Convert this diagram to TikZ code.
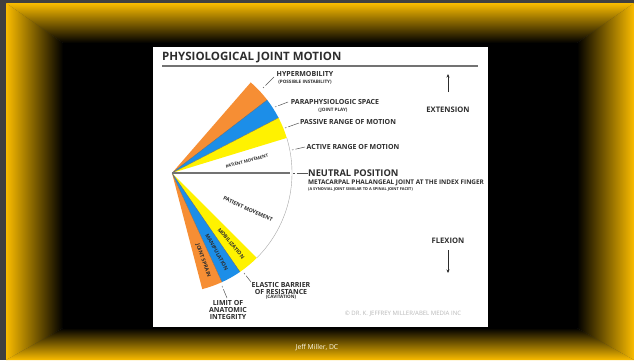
\documentclass[tikz,border=0pt]{standalone}
\usepackage{fontspec}
\setmainfont{Open Sans}
\usetikzlibrary{arrows.meta,calc}
\newcommand\setfs[1]{\fontsize{#1}{#1}\selectfont}
\begin{document}
\begin{tikzpicture}[x=1pt,y=1pt,
  lbl/.style={inner sep=0pt, text=ink, font=\bfseries\setfs{7}},
  sub/.style={inner sep=0pt, text=ink, font=\bfseries\setfs{4.6}},
  wedgetxt/.style={inner sep=0pt, text=ink, font=\bfseries\setfs{5.2}},
  leader/.style={draw=ink!80, line width=0.5pt, dash pattern=on 1.5pt off 2pt on 12pt off 0pt},
  arr/.style={draw=ink, line width=0.8pt, -{Stealth[length=3.5pt,width=3pt]}}]
\definecolor{gold}{RGB}{250,188,0}
\definecolor{orng}{RGB}{246,142,52}
\definecolor{blu}{RGB}{28,142,232}
\definecolor{yel}{RGB}{255,242,0}
\definecolor{ink}{RGB}{45,45,45}
\useasboundingbox (0,0) rectangle (634,360);
% frame
\fill[black!75] (0,0) rectangle (634,360);
\fill[black] (63,32) rectangle (577,317);
\shade[top color=gold, bottom color=black] (6,357) -- (634,357) -- (577,317) -- (63,317) -- cycle;
\shade[left color=gold, right color=black] (6,0) -- (63,32) -- (63,317) -- (6,357) -- cycle;
\shade[left color=black, right color=gold] (634,0) -- (634,357) -- (577,317) -- (577,32) -- cycle;
\shade[top color=black, bottom color=gold] (6,0) -- (634,0) -- (577,32) -- (63,32) -- cycle;
% panel
\fill[white] (153,33) rectangle (488,313);
% title
\node[inner sep=0pt, anchor=west, text=ink, font=\bfseries\setfs{11.5}] (title) at (162,302) {PHYSIOLOGICAL JOINT MOTION};
\draw[black!55, line width=1.5pt] (162,294) -- (478,294);
% fan
\coordinate (P) at (172,187);
\fill[orng] (P) -- ++(37.5:120) arc (37.5:49:120) -- cycle;
\fill[blu]  (P) -- ++(27.4:120) arc (27.4:37.5:120) -- cycle;
\fill[yel]  (P) -- ++(17:120) arc (17:27.4:120) -- cycle;
\fill[yel]  (P) -- ++(-45:120) arc (-45:-55.5:120) -- cycle;
\fill[blu]  (P) -- ++(-55.5:120) arc (-55.5:-65.4:120) -- cycle;
\fill[orng] (P) -- ++(-65.4:120) arc (-65.4:-75.4:120) -- cycle;
\draw[black!60, line width=0.3pt] (P) -- ++(27.4:120) (P) -- ++(-55.5:120) (P) -- ++(37.5:120) (P) -- ++(-65.4:120);
\draw[black!35, line width=0.4pt] (P) ++(17:120) arc (17:-45:120);
\draw[black!55, line width=1.3pt] (P) -- ++(0:118);
% texts in fan
\node[inner sep=0pt, text=ink, font=\bfseries\setfs{4.3}, rotate=15] (pm1) at (247,199) {PATIENT MOVEMENT};
\node[inner sep=0pt, text=ink, font=\bfseries\setfs{5.3}, rotate=-25] (pm2) at (248,151) {PATIENT MOVEMENT};
\node[wedgetxt, rotate=-50] (mob) at ($(P)+(-50:92)$) {MOBILIZATION};
\node[wedgetxt, rotate=-60.5] (man) at ($(P)+(-60.5:91)$) {MANIPULATION};
\node[wedgetxt, rotate=-70.4] (spr) at ($(P)+(-70.4:93)$) {JOINT SPRAIN};
% labels
\node[lbl] (hyper) at (305,286) {HYPERMOBILITY};
\node[sub] (hypersub) at (305,278) {(POSSIBLE INSTABILITY)};
\coordinate (h1) at (263,272); \coordinate (h2) at (274,283);
\draw[leader] (h1) -- (h2);
\node[lbl] (para) at (335,258) {PARAPHYSIOLOGIC SPACE};
\node[sub] (parasub) at (333,250) {(JOINT PLAY)};
\coordinate (p1) at (275,253); \coordinate (p2) at (288,258);
\draw[leader] (p1) -- (p2);
\node[lbl] (pass) at (348,238) {PASSIVE RANGE OF MOTION};
\coordinate (s1) at (285,232); \coordinate (s2) at (299,237);
\draw[leader] (s1) -- (s2);
\node[lbl] (act) at (353,213) {ACTIVE RANGE OF MOTION};
\coordinate (a1) at (292,210); \coordinate (a2) at (305,213);
\draw[leader] (a1) -- (a2);
\node[inner sep=0pt, anchor=west, text=ink, font=\bfseries\setfs{9.3}] (neut) at (308,187) {NEUTRAL POSITION};
\coordinate (n1) at (293,187);
\draw[leader] (n1) -- (neut.west);
\node[inner sep=0pt, anchor=west, text=ink, font=\bfseries\setfs{6.4}] (meta) at (308,177) {METACARPAL PHALANGEAL JOINT AT THE INDEX FINGER};
\node[inner sep=0pt, anchor=west, text=ink, font=\bfseries\setfs{3.9}] (syn) at (308,171) {(A SYNOVIAL JOINT SIMILAR TO A SPINAL JOINT FACET)};
\node[lbl, font=\bfseries\setfs{7.6}] (ext) at (448,250) {EXTENSION};
\coordinate (e1) at (448,268); \coordinate (e2) at (448,286);
\draw[arr] (e1) -- (e2);
\node[lbl, font=\bfseries\setfs{7.6}] (flex) at (448,119) {FLEXION};
\coordinate (f1) at (448,110); \coordinate (f2) at (448,87);
\draw[arr] (f1) -- (f2);
\node[lbl] (el1) at (281,75) {ELASTIC BARRIER};
\node[lbl] (el2) at (281,68.5) {OF RESISTANCE};
\node[sub] (el3) at (281,62.5) {(CAVITATION)};
\coordinate (b1) at (244,87); \coordinate (b2) at (251,78);
\draw[leader] (b1) -- (b2);
\node[lbl] (li1) at (228,57) {LIMIT OF};
\node[lbl] (li2) at (228,50) {ANATOMIC};
\node[lbl] (li3) at (228,43) {INTEGRITY};
\coordinate (l1) at (222,74); \coordinate (l2) at (227,62);
\draw[leader] (l1) -- (l2);
\node[inner sep=0pt, text=black!28, font=\setfs{6}] (copy) at (403,46) {\textcopyright{} DR. K. JEFFREY MILLER/ABEL MEDIA INC};
% footer
\node[inner sep=0pt, text=white!92!gold, font=\setfs{6.8}] (foot) at (317,12) {Jeff Miller, DC};
\end{tikzpicture}
\end{document}
